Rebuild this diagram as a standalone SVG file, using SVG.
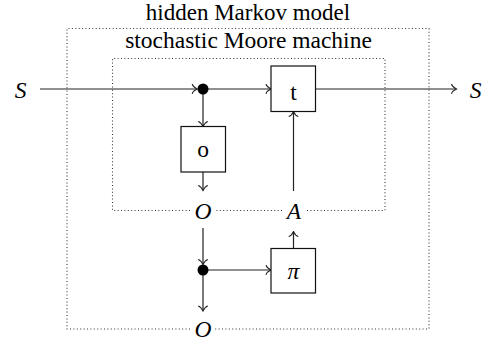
<svg xmlns="http://www.w3.org/2000/svg" width="487" height="348" viewBox="0 0 487 348">
<style>
.t{font-family:"Liberation Serif","Times New Roman",serif;font-size:23.5px;fill:#000;text-anchor:middle}
.h{font-size:23px}
.i{font-style:italic}
.box{fill:#fff;stroke:#111;stroke-width:1.2}
.dot{fill:none;stroke:#333;stroke-width:1.1;stroke-dasharray:1 2.4}
.c{fill:none;stroke:#222;stroke-width:1.2}
</style>
<defs>
<marker id="ar" viewBox="-7 -6 8 12" markerWidth="8" markerHeight="12" refX="0" refY="0" orient="auto" markerUnits="userSpaceOnUse">
<path d="M-5,-4.8 C-4.3,-2 -0.8,-0.4 0,0 C-0.8,0.4 -4.3,2 -5,4.8" fill="none" stroke="#222" stroke-width="1.1"/>
</marker>
</defs>
<g id="frames">
<path class="dot" d="M190,329 H67 V28.5 H429 V329 H215"/>
<path class="dot" d="M190,210.5 H112.5 V58.5 H385 V210.5 H306 M282,210.5 H215"/>
</g>
<g id="titles">
<text class="t h" x="248" y="19.5">hidden Markov model</text>
<text class="t" x="248.5" y="47.5">stochastic Moore machine</text>
</g>
<g id="connectors">
<line class="c" x1="40" y1="89" x2="197.2" y2="89" marker-end="url(#ar)"/>
<line class="c" x1="203" y1="89" x2="271" y2="89" marker-end="url(#ar)"/>
<line class="c" x1="315.5" y1="89" x2="456.5" y2="89" marker-end="url(#ar)"/>
<line class="c" x1="203" y1="89" x2="203" y2="126.5" marker-end="url(#ar)"/>
<line class="c" x1="203" y1="172" x2="203" y2="190.5" marker-end="url(#ar)"/>
<line class="c" x1="293.5" y1="191" x2="293.5" y2="111.5" marker-end="url(#ar)"/>
<line class="c" x1="203" y1="228" x2="203" y2="264.5" marker-end="url(#ar)"/>
<line class="c" x1="203" y1="270" x2="203" y2="311" marker-end="url(#ar)"/>
<line class="c" x1="203" y1="270" x2="271" y2="270" marker-end="url(#ar)"/>
<line class="c" x1="293.5" y1="248.5" x2="293.5" y2="231.5" marker-end="url(#ar)"/>
</g>
<g id="S_in"><text class="t i" x="20.5" y="97.5">S</text></g>
<g id="S_out"><text class="t i" x="475.5" y="97.5">S</text></g>
<g id="split1"><circle cx="203" cy="89" r="5.5" fill="#000"/></g>
<g id="t"><rect class="box" x="271" y="66" width="44.5" height="45.5"/><text class="t" x="293.5" y="99.5">t</text></g>
<g id="o"><rect class="box" x="181" y="126.5" width="44.5" height="45.5"/><text class="t" x="203" y="156.5">o</text></g>
<g id="O1"><text class="t i" x="203" y="219">O</text></g>
<g id="A"><text class="t i" x="294" y="219">A</text></g>
<g id="split2"><circle cx="203" cy="270" r="5.5" fill="#000"/></g>
<g id="pi"><rect class="box" x="271" y="248.5" width="44.5" height="44.5"/><text class="t i" x="293.5" y="278.5">π</text></g>
<g id="O2"><text class="t i" x="203" y="337">O</text></g>
</svg>
